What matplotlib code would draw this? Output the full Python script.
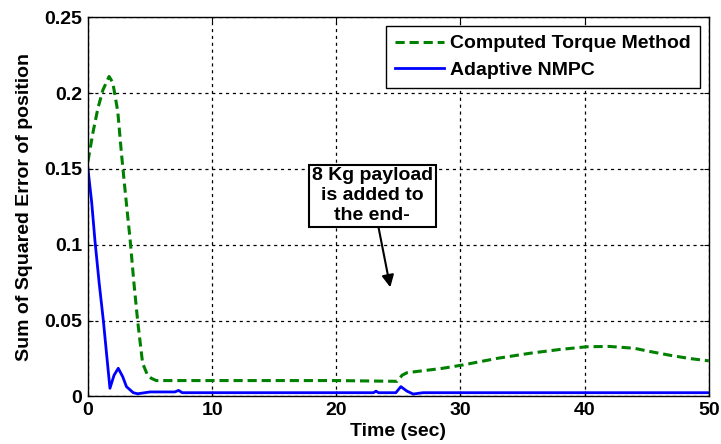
import matplotlib
matplotlib.use("Agg")
import matplotlib.pyplot as plt
import matplotlib.ticker as ticker

plt.rcParams['font.family'] = ['Liberation Sans', 'DejaVu Sans']
plt.rcParams['font.weight'] = 'bold'

# computed torque method (dashed green)
ctm_t = [0, 0.4, 0.8, 1.2, 1.7, 2.0, 2.4, 2.7, 3.0, 3.4, 3.7, 4.0, 4.4, 4.8,
         5.1, 5.5, 10, 15, 20, 24.9, 25.3, 25.7, 27, 28.5, 30.2, 33, 35.6,
         38, 40.2, 42, 44, 45.3, 47, 48.5, 50]
ctm_err = [0.155, 0.174, 0.190, 0.202, 0.211, 0.207, 0.188, 0.160, 0.135,
           0.103, 0.075, 0.050, 0.022, 0.014, 0.012, 0.0105, 0.0105, 0.0105,
           0.0105, 0.0100, 0.0140, 0.0157, 0.0170, 0.0185, 0.0208, 0.0252,
           0.0285, 0.0310, 0.0328, 0.0330, 0.0318, 0.0296, 0.0270, 0.0250,
           0.0235]

# adaptive NMPC (solid blue)
nmpc_t = [0, 0.3, 0.56, 0.9, 1.24, 1.5, 1.77, 2.1, 2.44, 2.8, 3.1, 3.65, 4.0,
          5.0, 7.0, 7.3, 7.6, 10, 20, 23.0, 23.2, 23.4, 24.8, 25.2, 25.7,
          26.2, 26.7, 27, 50]
nmpc_err = [0.150, 0.128, 0.103, 0.075, 0.050, 0.028, 0.0054, 0.014, 0.0186,
            0.013, 0.0065, 0.0025, 0.0018, 0.0030, 0.0030, 0.0040, 0.0025,
            0.0025, 0.0025, 0.0025, 0.0035, 0.0025, 0.0025, 0.0065, 0.0035,
            0.0016, 0.0022, 0.0025, 0.0025]

xticks = [0, 10, 20, 30, 40, 50]
yticks = [0, 0.05, 0.1, 0.15, 0.2, 0.25]

fig = plt.figure(figsize=(7.21, 4.44), dpi=100)
ax = fig.add_axes([0.122, 0.107, 0.861, 0.854])

ax.plot(ctm_t, ctm_err, color='#008000', ls=(0, (3, 1.6)), lw=2.2,
        label='Computed Torque Method')
ax.plot(nmpc_t, nmpc_err, color='#0000ff', lw=2,
        label='Adaptive NMPC')

ax.set_xlim(0, 50)
ax.set_ylim(0, 0.25)
ax.set_xticks(xticks)
ax.set_yticks(yticks)
ax.yaxis.set_major_formatter(ticker.FormatStrFormatter('%g'))
ax.tick_params(direction='in', top=True, right=True, labelsize=14, pad=4)
ax.grid(True, color='black', ls=(0, (2.5, 3)), lw=0.9)
for s in ax.spines.values():
    s.set_linewidth(1.0)

ax.set_xlabel('Time (sec)', fontsize=14, fontweight='bold', labelpad=3)
ax.set_ylabel('Sum of Squared Error of position', fontsize=14,
              fontweight='bold', labelpad=8)

leg = ax.legend(loc='upper right', fontsize=14, fancybox=False,
                framealpha=1, edgecolor='black', handlelength=2.5,
                borderaxespad=0.45, handletextpad=0.35, labelspacing=0.45,
                borderpad=0.45)
leg.get_frame().set_linewidth(1.0)

# payload note with arrow
ax.annotate('8 Kg payload\nis added to\nthe end-', xy=(24.35, 0.072),
            xytext=(22.9, 0.1325), ha='center', va='center', fontsize=14,
            fontweight='bold', linespacing=1.2,
            bbox=dict(boxstyle='square,pad=0.15', fc='white', ec='black',
                      lw=1.5),
            arrowprops=dict(arrowstyle='-|>', color='black', lw=1.5,
                            mutation_scale=18, shrinkA=0, shrinkB=0))

fig.savefig('out.png', dpi=100)
